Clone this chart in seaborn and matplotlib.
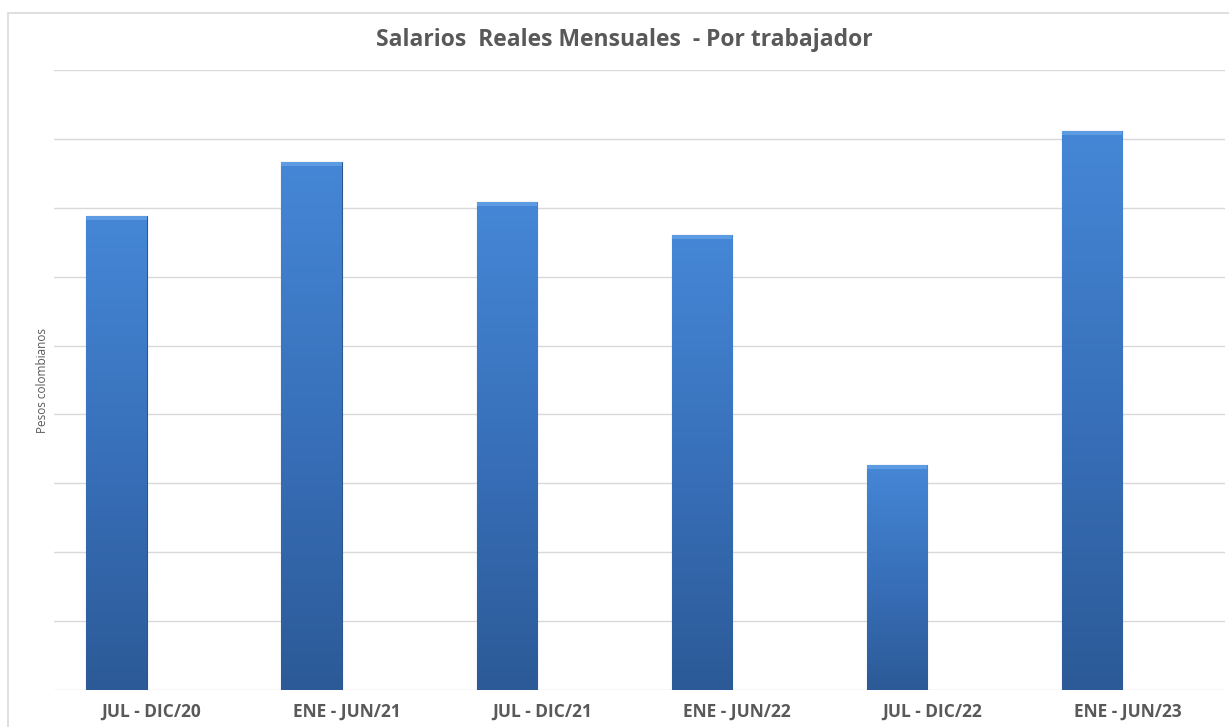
import numpy as np
import pandas as pd
import matplotlib.pyplot as plt
import matplotlib.patches as mpatches
from matplotlib.colors import LinearSegmentedColormap
import seaborn as sns

# datos (unidades = lineas de cuadricula)
periodos = ["JUL - DIC/20", "ENE - JUN/21", "JUL - DIC/21",
            "ENE - JUN/22", "JUL - DIC/22", "ENE - JUN/23"]
salario_real = [6.88, 7.66, 7.08, 6.60, 3.27, 8.11]
serie_vacia = [np.nan] * 6

df = pd.DataFrame({
    "periodo": periodos * 2,
    "valor": salario_real + serie_vacia,
    "serie": ["salario"] * 6 + ["vacia"] * 6,
})

sns.set_style("white")
plt.rcParams["font.family"] = ["Open Sans", "DejaVu Sans"]

fig = plt.figure(figsize=(12.29, 7.27), dpi=100)
ax = fig.add_axes([0.0439, 0.0509, 0.9528, 0.8528])

sns.barplot(data=df, x="periodo", y="valor", hue="serie",
            hue_order=["salario", "vacia"], order=periodos,
            width=0.72, gap=0.14, dodge=True, legend=False,
            color="#3a75c4", ax=ax, errorbar=None)

# degradado vertical en cada barra (claro arriba, oscuro abajo)
cmap = LinearSegmentedColormap.from_list("azul", ["#2c5a97", "#3870ba", "#4587d6"])
grad = np.linspace(0, 1, 256).reshape(-1, 1)
for bar in list(ax.patches):
    x0, y0 = bar.get_x(), bar.get_y()
    w, h = bar.get_width(), bar.get_height()
    if not np.isfinite(h) or h == 0:
        continue
    bar.set_facecolor("none")
    bar.set_edgecolor("#2a558f")
    bar.set_linewidth(0.8)
    im = ax.imshow(grad, cmap=cmap, extent=[x0, x0 + w, y0, y0 + h],
                   origin="lower", aspect="auto", zorder=2)
    im.set_clip_path(bar)
    # franja clara superior (bisel)
    ax.add_patch(mpatches.Rectangle((x0, y0 + h - 0.06), w, 0.06,
                                    color="#5d9be2", zorder=3, lw=0))

ax.set_xlim(-0.5, 5.5)
ax.set_ylim(0, 9)
ax.set_yticks(np.arange(0, 10, 1))
ax.set_yticklabels([])
ax.yaxis.grid(True, color="#d9d9d9", linewidth=1)
ax.set_axisbelow(True)
for s in ax.spines.values():
    s.set_visible(False)
ax.tick_params(axis="both", length=0)
ax.tick_params(axis="x", pad=9)
for lbl in ax.get_xticklabels():
    lbl.set_fontweight("bold")
    lbl.set_fontsize(12.5)
    lbl.set_color("#595959")
ax.set_xlabel("")
ax.set_ylabel("Pesos colombianos", fontsize=8.5, color="#595959", labelpad=0)

fig.suptitle("Salarios  Reales Mensuales  - Por trabajador", x=0.508, y=0.962,
             fontsize=16.5, fontweight="bold", color="#595959")

# marco del area del grafico
fig.patches.append(mpatches.Rectangle((8 / 1229, -0.05), 1.1, 0.05 + (727 - 13) / 727,
                                      transform=fig.transFigure, fill=False,
                                      edgecolor="#d9d9d9", linewidth=1.2))

fig.savefig("out.png", dpi=100)
